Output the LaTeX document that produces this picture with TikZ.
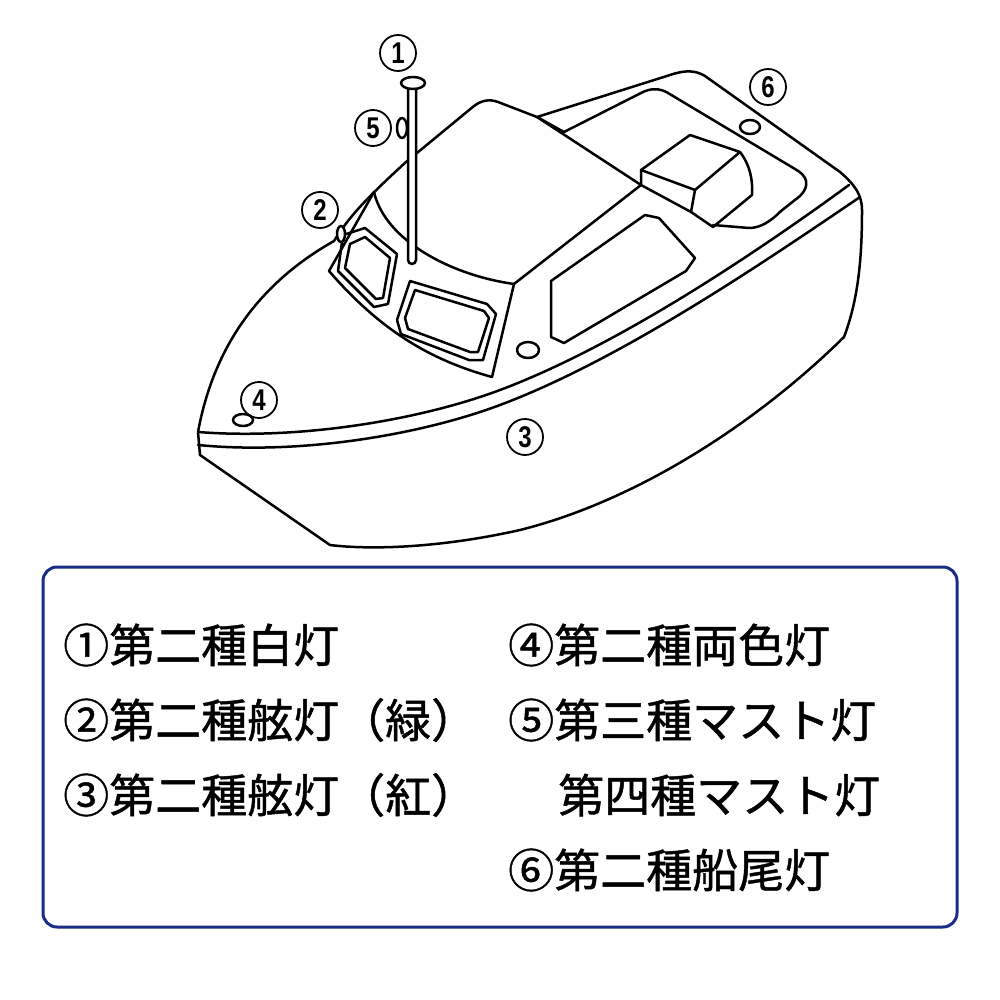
\documentclass[tikz,border=0pt]{standalone}
\usepackage{fontspec}
\newfontfamily\cjk[FakeBold=1]{Noto Sans CJK JP}
\newfontfamily\numf[FakeStretch=0.8]{Liberation Sans}
\begin{document}
\begin{tikzpicture}[x=1pt,y=-1pt,line join=round,line cap=round,
  ln/.style={draw=black,line width=2.5pt},
  num/.style={circle,draw=black,line width=1.8pt,minimum size=36pt,inner sep=0pt,font=\numf\bfseries\fontsize{30}{30}\selectfont},
  lab/.style={anchor=west,inner sep=0pt,font=\cjk\fontsize{46}{50}\selectfont}]
\useasboundingbox (0,0) rectangle (1000,1000);
% hull
\draw[ln] (198,432) .. controls (215,340) and (265,280) .. (334,241) .. controls (350,215) and (370,195) .. (406,162) -- (474,106) .. controls (482,100) and (490,99) .. (498,102) -- (537,117)
  -- (670,75) .. controls (685,70) and (695,70) .. (705,76) -- (840,172) .. controls (855,185) and (862,195) .. (862,210) .. controls (862,260) and (858,300) .. (844,337)
  .. controls (760,420) and (640,500) .. (520,530) .. controls (440,548) and (370,550) .. (330,545) -- (200,455) -- (198,432);
\draw[ln] (198,432) .. controls (300,440) and (420,420) .. (500,390) .. controls (620,345) and (760,250) .. (849,185);
\draw[ln] (198,445) .. controls (300,455) and (420,435) .. (500,405) .. controls (620,360) and (760,265) .. (860,197);
% cockpit rim
\draw[ln] (537,117) -- (564,132) -- (641,93) .. controls (650,88) and (660,88) .. (668,93) -- (795,169) .. controls (808,176) and (810,186) .. (800,196) -- (781,211) .. controls (770,222) and (760,228) .. (749,228) -- (713,225);
% cabin
\draw[ln] (537,117) -- (641,185) -- (514,284) -- (492,377);
\draw[ln] (374,192) .. controls (385,240) and (450,275) .. (514,284);
\draw[ln] (374,192) -- (329,271) .. controls (380,330) and (430,360) .. (492,377);
% windows
\draw[ln] (343,235) -- (365,228) -- (397,254) -- (388,304) -- (374,307) -- (338,271) -- cycle;
\draw[ln] (350,244) -- (365,237) -- (390,258) -- (383,298) -- (376,299) -- (345,268) -- cycle;
\draw[ln] (410,281) -- (487,304) -- (496,314) -- (483,360) -- (469,360) -- (401,334) -- (397,320) -- cycle;
\draw[ln] (415,290) -- (484,311) -- (489,318) -- (478,352) -- (470,352) -- (408,329) -- (405,318) -- cycle;
\draw[ln] (551,281) -- (645,215) -- (659,218) -- (695,258) -- (686,271) -- (564,343) -- (551,337) -- cycle;
% engine box
\draw[ln] (641,170) -- (690,135) -- (740,152) -- (695,190) -- cycle;
\draw[ln] (641,170) -- (641,185) -- (691,212) -- (695,190);
\draw[ln] (740,152) .. controls (750,165) and (753,180) .. (752,195) -- (713,227) -- (691,212);
% lights
\draw[ln,fill=white] (528,350) ellipse (11pt and 8pt);
\draw[ln,fill=white] (243,420) ellipse (10pt and 6pt);
\draw[ln,fill=white] (750,127) ellipse (10pt and 7pt);
\draw[ln,fill=white] (341,234) ellipse (4pt and 8pt);
\draw[ln,fill=white] (402,128) ellipse (5pt and 10pt);
% mast
\draw[ln,fill=white] (408,88) -- (408,260) arc[start angle=180,end angle=360,radius=4pt] -- (416,88);
\draw[ln,fill=white] (413,83) ellipse (12pt and 6pt);
% numbers
\node[num] (n1) at (398,53) {1};
\node[num] (n5) at (373,128) {5};
\node[num] (n2) at (320,210) {2};
\node[num] (n6) at (768,87) {6};
\node[num] (n4) at (259,400) {4};
\node[num] (n3) at (525,437) {3};
% legend
\draw[draw={rgb,255:red,25;green,45;blue,135},line width=3pt,rounded corners=14pt] (43,567) rectangle (957,927);
\node[lab] (l1) at (63,645) {①第二種白灯};
\node[lab] (l2) at (63,720) {②第二種舷灯（緑）};
\node[lab] (l3) at (63,795) {③第二種舷灯（紅）};
\node[lab] (l4) at (508,645) {④第二種両色灯};
\node[lab] (l5) at (508,720) {⑤第三種マスト灯};
\node[lab] (l5b) at (558,795) {第四種マスト灯};
\node[lab] (l6) at (508,870) {⑥第二種船尾灯};
\end{tikzpicture}
\end{document}
